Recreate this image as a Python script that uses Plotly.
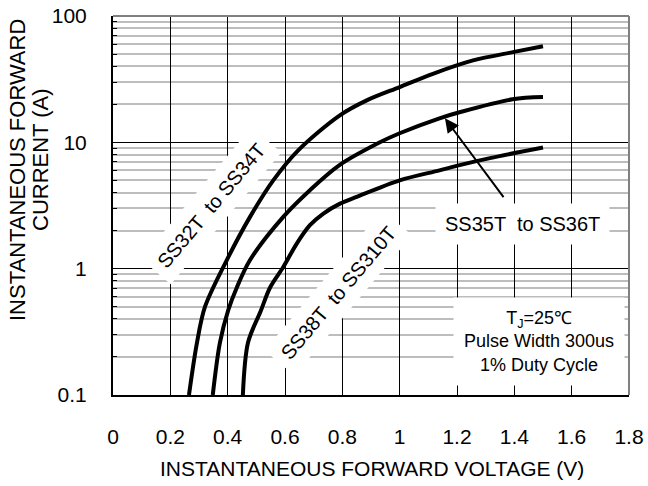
import plotly.graph_objects as go

# ---- data ----
v_ss32 = [0.265, 0.293, 0.321, 0.397, 0.478, 0.559, 0.646, 0.79, 0.885, 1.0, 1.116, 1.256, 1.395, 1.5]
i_ss32 = [0.1, 0.26, 0.50, 1.17, 2.57, 5.0, 8.65, 16.3, 21.5, 27.4, 34.9, 44.5, 51.8, 57.7]

v_ss35 = [0.348, 0.373, 0.402, 0.432, 0.478, 0.594, 0.687, 0.79, 0.931, 1.0, 1.139, 1.209, 1.394, 1.5]
i_ss35 = [0.1, 0.26, 0.47, 0.71, 1.17, 2.57, 4.18, 6.6, 10.0, 11.8, 15.5, 17.3, 21.9, 22.8]

v_ss38 = [0.453, 0.471, 0.515, 0.548, 0.594, 0.641, 0.687, 0.734, 0.792, 0.85, 1.0, 1.139, 1.209, 1.315, 1.5]
i_ss38 = [0.1, 0.26, 0.46, 0.71, 1.03, 1.58, 2.21, 2.73, 3.27, 3.70, 5.0, 6.0, 6.6, 7.5, 9.1]

x_tickvals = [0, 0.2, 0.4, 0.6, 0.8, 1.0, 1.2, 1.4, 1.6, 1.8]
x_ticktext = ["0", "0.2", "0.4", "0.6", "0.8", "1", "1.2", "1.4", "1.6", "1.8"]
y_tickvals = [0.1, 1, 10, 100]
y_ticktext = ["0.1", "1", "10", "100"]
y_minor = [m * 10 ** e for e in (-1, 0, 1) for m in range(2, 10)]

FONT = "Liberation Sans, Arial, sans-serif"

# plot-area geometry in pixels
PL, PR, PT, PB = 113, 629, 16, 395
W, H = 648, 486

def px2paper(px, py):
    return (px - PL) / (PR - PL), (PB - py) / (PB - PT)

fig = go.Figure()
for v, i in [(v_ss32, i_ss32), (v_ss35, i_ss35), (v_ss38, i_ss38)]:
    fig.add_trace(go.Scatter(x=v, y=i, mode="lines",
                             line=dict(color="black", width=4, shape="spline", smoothing=0.9),
                             showlegend=False, hoverinfo="skip"))

fig.update_layout(
    width=W, height=H,
    margin=dict(l=PL, r=W - PR, t=PT, b=H - PB, autoexpand=False),
    paper_bgcolor="white", plot_bgcolor="white",
    font=dict(family=FONT, color="black", size=21),
    xaxis=dict(range=[0, 1.8], tickvals=x_tickvals, ticktext=x_ticktext,
               showgrid=True, gridcolor="black", gridwidth=1,
               showline=True, linecolor="black", linewidth=2,
               ticks="inside", ticklen=7, tickcolor="black",
               ticklabelstandoff=22, zeroline=False, automargin=False,
               tickfont=dict(size=21)),
    yaxis=dict(type="log", range=[-1, 2], tickvals=y_tickvals, ticktext=y_ticktext,
               showgrid=True, gridcolor="black", gridwidth=1,
               showline=True, linecolor="black", linewidth=2,
               ticks="inside", ticklen=5, tickcolor="black",
               ticklabelstandoff=20, zeroline=False, automargin=False,
               tickfont=dict(size=21),
               minor=dict(tickvals=y_minor, showgrid=True, gridcolor="#bdbdbd", gridwidth=2,
                          ticks="inside", ticklen=4, tickcolor="black")),
)

# top and right borders (grey)
fig.add_shape(type="line", xref="paper", yref="paper", x0=0, x1=1, y0=1, y1=1,
              line=dict(color="#808080", width=2), layer="above")
fig.add_shape(type="line", xref="paper", yref="paper", x0=1, x1=1, y0=0, y1=1,
              line=dict(color="#808080", width=2), layer="above")

# rotated curve labels (positions in data coords; log axis -> log10 values)
fig.add_annotation(x=0.342, y=0.494, xref="x", yref="y", text="SS32T  to SS34T",
                   textangle=-50, showarrow=False, bgcolor="white", borderpad=8,
                   xanchor="center", yanchor="middle", font=dict(size=20))
fig.add_annotation(x=0.785, y=-0.19, xref="x", yref="y", text="SS38T  to SS310T",
                   textangle=-50, showarrow=False, bgcolor="white", borderpad=8,
                   xanchor="center", yanchor="middle", font=dict(size=20))
fig.add_annotation(x=1.43, y=0.352, xref="x", yref="y", text="SS35T  to SS36T",
                   showarrow=False, bgcolor="white", borderpad=9,
                   xanchor="center", yanchor="middle", font=dict(size=20))
# arrow
fig.add_annotation(x=1.158, y=1.19, xref="x", yref="y", ax=1.378, ay=0.518,
                   axref="x", ayref="y", text=" ", showarrow=True,
                   arrowhead=2, arrowsize=1.4, arrowwidth=2, arrowcolor="black")

# conditions box
fig.add_annotation(x=1.486, y=-0.573, xref="x", yref="y",
                   text="T<sub>J</sub>=25℃<br>Pulse Width 300us<br>1% Duty Cycle",
                   showarrow=False, bgcolor="white", borderpad=10, align="center",
                   xanchor="center", yanchor="middle", font=dict(size=18))

# axis titles
xt = px2paper(372, 468)
fig.add_annotation(x=xt[0], y=xt[1], xref="paper", yref="paper",
                   text="INSTANTANEOUS FORWARD VOLTAGE (V)",
                   xanchor="center", yanchor="middle", showarrow=False, font=dict(size=21))
yt1 = px2paper(18, 170)
fig.add_annotation(x=yt1[0], y=yt1[1], xref="paper", yref="paper",
                   text="INSTANTANEOUS FORWARD",
                   textangle=-90, xanchor="center", yanchor="middle",
                   showarrow=False, font=dict(size=22))
yt2 = px2paper(40, 160)
fig.add_annotation(x=yt2[0], y=yt2[1], xref="paper", yref="paper",
                   text="CURRENT (A)",
                   textangle=-90, xanchor="center", yanchor="middle",
                   showarrow=False, font=dict(size=22))

fig.write_html("out.html",
               config={"displayModeBar": False},
               post_script="document.body.style.margin='0';document.body.style.padding='0';")
